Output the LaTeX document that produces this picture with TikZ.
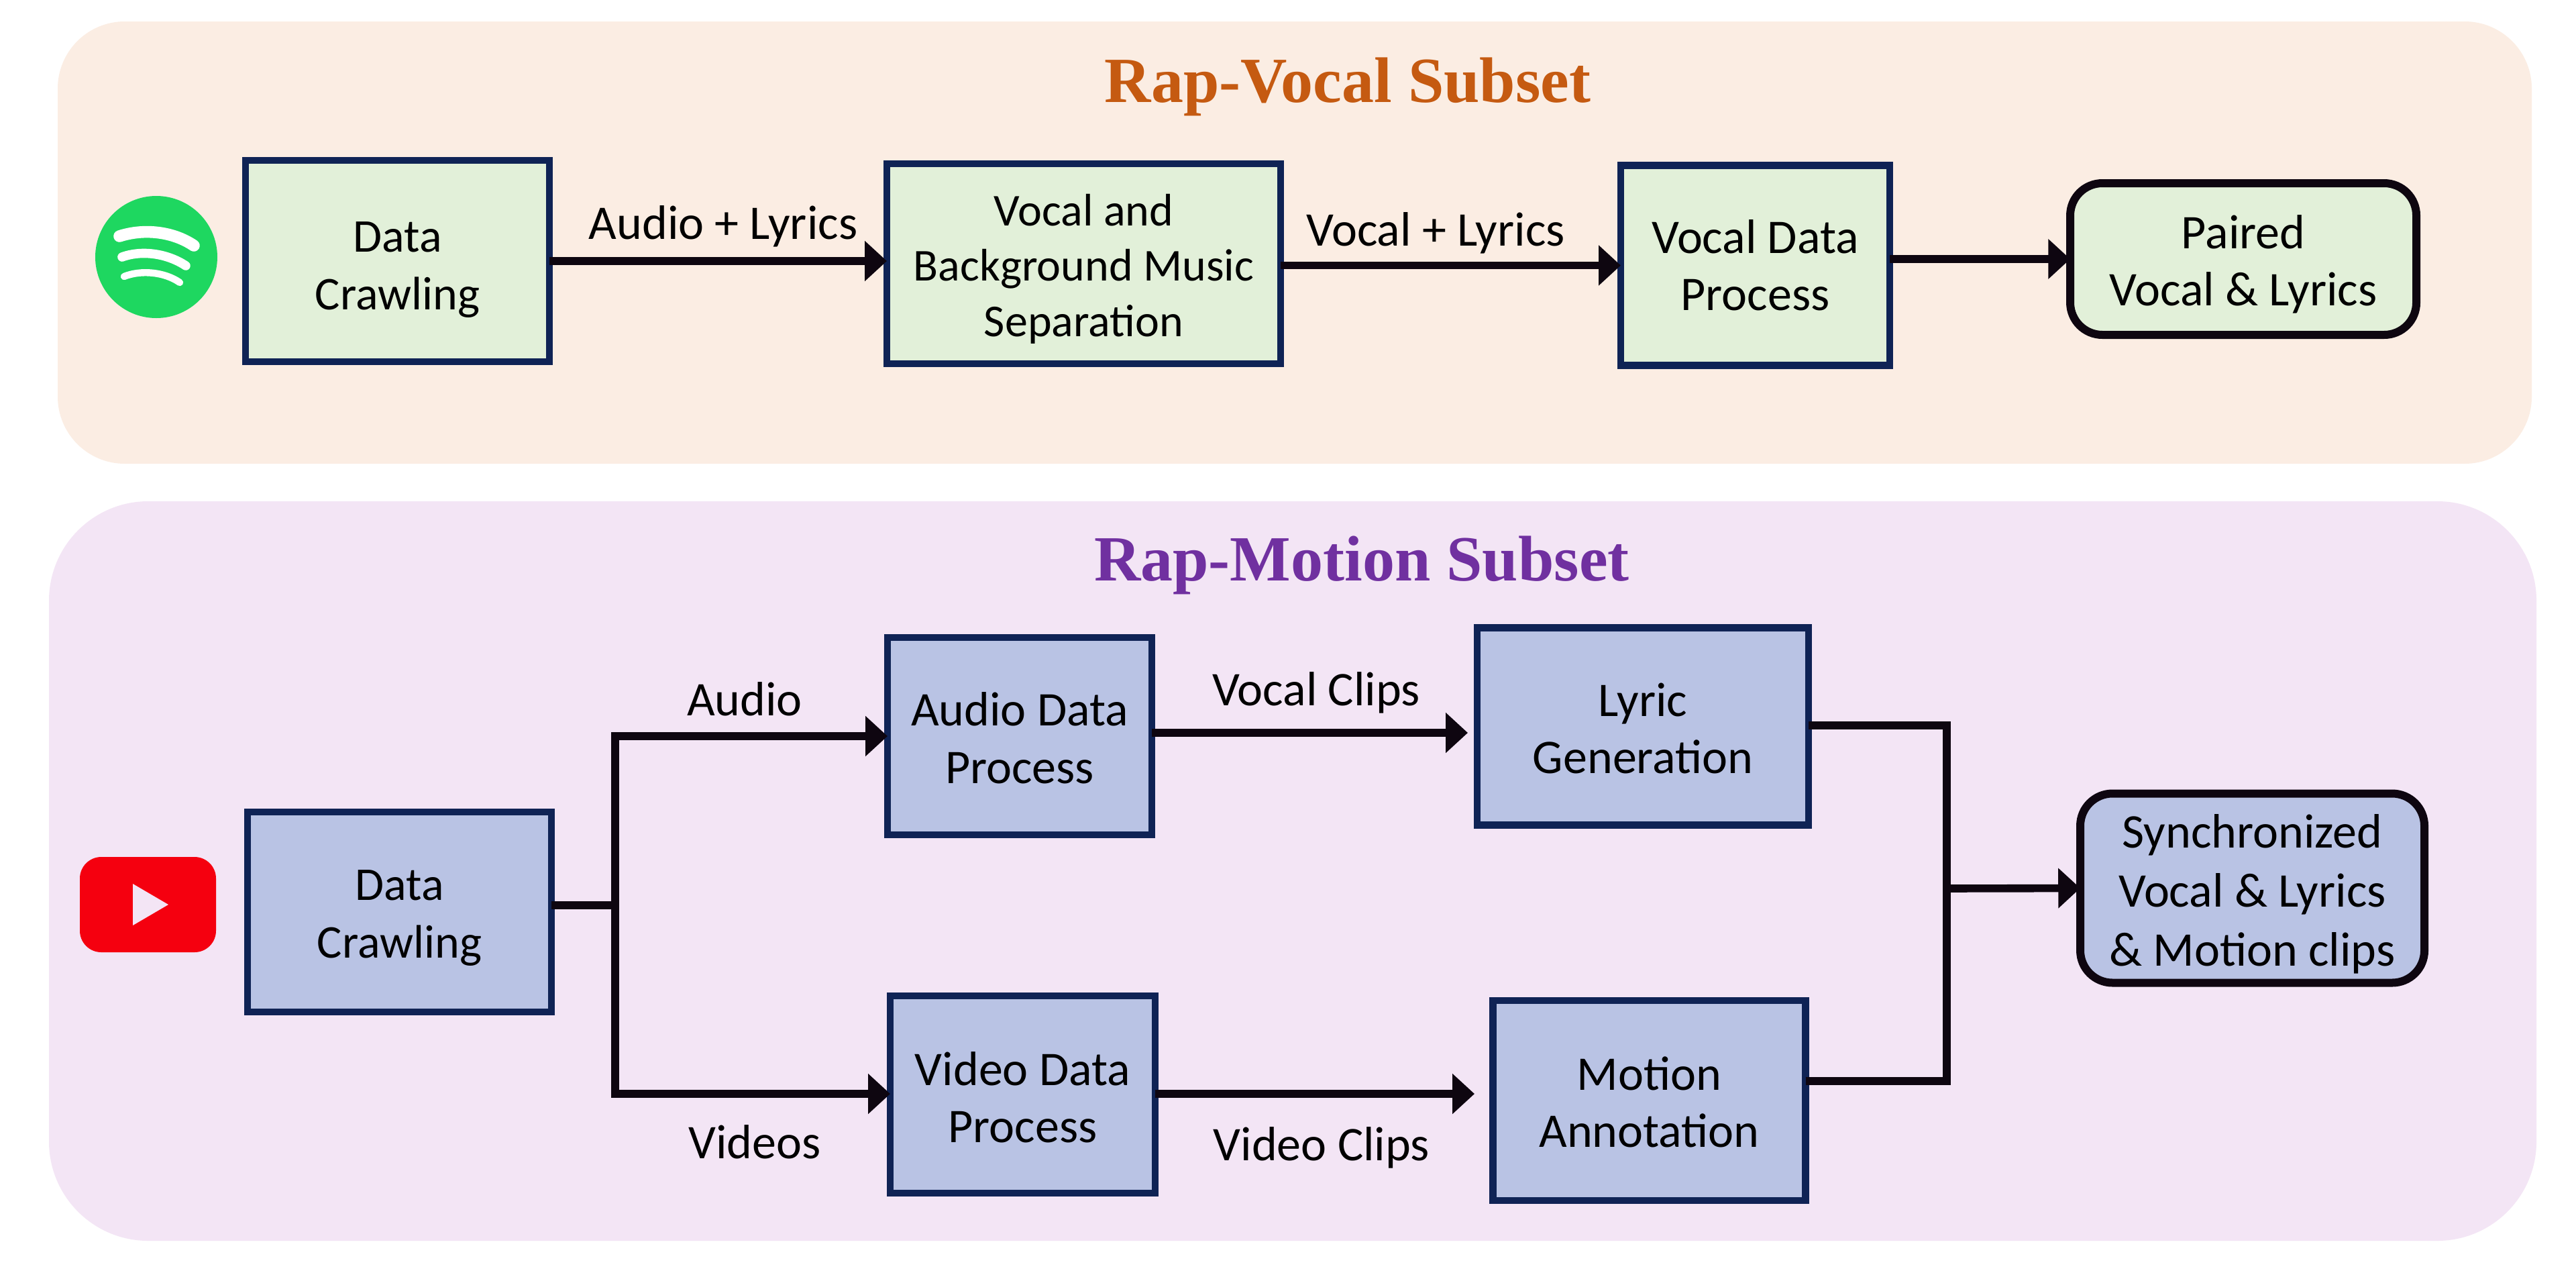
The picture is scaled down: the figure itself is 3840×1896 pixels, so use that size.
\documentclass[tikz,border=0pt]{standalone}
\usepackage{fontspec}
\setmainfont{Carlito}
\newfontfamily\titlefont{Liberation Serif}
\usetikzlibrary{arrows.meta}
\definecolor{bgtop}{HTML}{FBEDE3}
\definecolor{bgbot}{HTML}{F3E5F5}
\definecolor{greenfill}{HTML}{E2F0D9}
\definecolor{bluefill}{HTML}{B9C3E4}
\definecolor{navy}{HTML}{0F2355}
\definecolor{ink}{HTML}{0E0610}
\definecolor{orangetitle}{HTML}{C55A11}
\definecolor{purpletitle}{HTML}{7030A0}
\definecolor{spotify}{HTML}{1ED760}
\definecolor{ytred}{HTML}{F5000F}
\newcommand\lowerby[1]{\rule{0pt}{#1pt}}
\tikzset{
  x=0.25pt,y=-0.25pt,
  proc/.style={draw=navy,line width=2.6pt,inner sep=0pt,outer sep=0pt,align=center,text=black,
     font=\fontsize{18}{21.3}\selectfont},
  gproc/.style={proc,fill=greenfill},
  bproc/.style={proc,fill=bluefill},
  final/.style={draw=ink,line width=3pt,rounded corners=12pt},
  lab/.style={font=\fontsize{18}{22}\selectfont,text=black,inner sep=0pt},
  ttl/.style={font=\titlefont\bfseries\fontsize{24}{28}\selectfont,inner sep=0pt},
  flow/.style={draw=ink,line width=2.9pt,miter limit=10,-{Triangle[length=8.2pt,width=14.5pt]}},
  wire/.style={draw=ink,line width=2.9pt},
}
\begin{document}
\begin{tikzpicture}
\useasboundingbox (0,0) rectangle (3840,1896);
\fill[white] (0,0) rectangle (3840,1896);
% panels
\fill[bgtop,rounded corners=25pt] (86,32) rectangle (3774,691);
\fill[bgbot,rounded corners=37pt] (73,747) rectangle (3781,1849);
\node[ttl,text=orangetitle] (t1) at (2009,129) {Rap-Vocal Subset};
\node[ttl,text=purpletitle] (t2) at (2030,842) {Rap-Motion Subset};
% logos
\fill[spotify] (233,383) circle (22.75pt);
\draw[white,line width=4.4pt,line cap=round] (178,352) .. controls (215,340) and (258,345) .. (289,366);
\draw[white,line width=3.4pt,line cap=round] (182,383) .. controls (212,372) and (250,378) .. (277,396);
\draw[white,line width=2.6pt,line cap=round] (185,412) .. controls (210,402) and (245,405) .. (268,421);
\fill[ytred,rounded corners=8pt] (119,1277) rectangle (322,1419);
\fill[bgbot] (198,1317) -- (251,1348) -- (198,1379) -- cycle;
% top row
\node[gproc,font=\fontsize{17.5}{21.4}\selectfont,minimum width=113.25pt,minimum height=75pt] (dc1) at (592.5,389) {\lowerby{17.8}Data\\Crawling};
\node[gproc,font=\fontsize{17}{20.6}\selectfont,minimum width=146.75pt,minimum height=74.5pt] (sep) at (1615.5,393) {\lowerby{15.7}Vocal and\\Background Music\\Separation};
\node[gproc,minimum width=100.25pt,minimum height=74.5pt] (vdp) at (2616.5,395.5) {Vocal Data\\Process};
\node[gproc,final,minimum width=129pt,minimum height=56.5pt] (pair) at (3344,386) {\lowerby{16.3}Paired\\Vocal \& Lyrics};
% bottom row
\node[bproc,font=\fontsize{17.5}{21.4}\selectfont,minimum width=113.25pt,minimum height=74.5pt] (dc2) at (595.5,1359) {\lowerby{15.7}Data\\Crawling};
\node[bproc,minimum width=98.5pt,minimum height=73.5pt] (adp) at (1520,1097) {\lowerby{13.9}Audio Data\\Process};
\node[bproc,minimum width=123.5pt,minimum height=73.5pt] (lyr) at (2449,1082.5) {\lowerby{13.9}Lyric\\Generation};
\node[bproc,minimum width=98.75pt,minimum height=73.5pt] (vidp) at (1524.5,1631) {\lowerby{14.5}Video Data\\Process};
\node[bproc,minimum width=116.5pt,minimum height=74.5pt] (mot) at (2458.5,1640) {\lowerby{13.7}Motion\\Annotation};
\node[bproc,final,font=\fontsize{18}{22}\selectfont,minimum width=128.25pt,minimum height=70.5pt] (syn) at (3357.5,1323.5) {\lowerby{16.7}Synchronized\\Vocal \& Lyrics\\\& Motion clips};
% junctions and free ends
\coordinate (j1) at (917,1349);
\coordinate (j1a) at (917,1097);
\coordinate (j1v) at (917,1630);
\coordinate (j2) at (2902,1324);
\coordinate (j2a) at (2902,1081);
\coordinate (j2v) at (2902,1611);
\coordinate (tipvc) at (2188,1092);
\coordinate (tipvv) at (2198,1630);
% top connectors
\draw[flow] (dc1.east) -- (sep.west |- dc1.east);
\draw[flow] (sep.east |- vdp.west) -- (vdp.west);
\draw[flow] (vdp.east |- pair.west) -- (pair.west);
% bottom connectors
\draw[wire] (dc2.east |- j1) -- (j1);
\draw[flow] (j1) |- (adp.west |- j1a);
\draw[flow] (j1) |- (vidp.west |- j1v);
\draw[flow] (adp.east |- tipvc) -- (tipvc);
\draw[flow] (vidp.east |- tipvv) -- (tipvv);
\draw[wire] (lyr.east |- j2a) -| (j2);
\draw[wire] (mot.east |- j2v) -| (j2);
\draw[flow] (j2) -- (syn.west);
% labels
\node[lab] (l1) at (1078,337) {Audio + Lyrics};
\node[lab] (l2) at (2140,347) {Vocal + Lyrics};
\node[lab] (l3) at (1110,1042) {Audio};
\node[lab] (l4) at (1962,1032) {Vocal Clips};
\node[lab] (l5) at (1125,1702) {Videos};
\node[lab] (l6) at (1970,1710) {Video Clips};
\end{tikzpicture}
\end{document}
